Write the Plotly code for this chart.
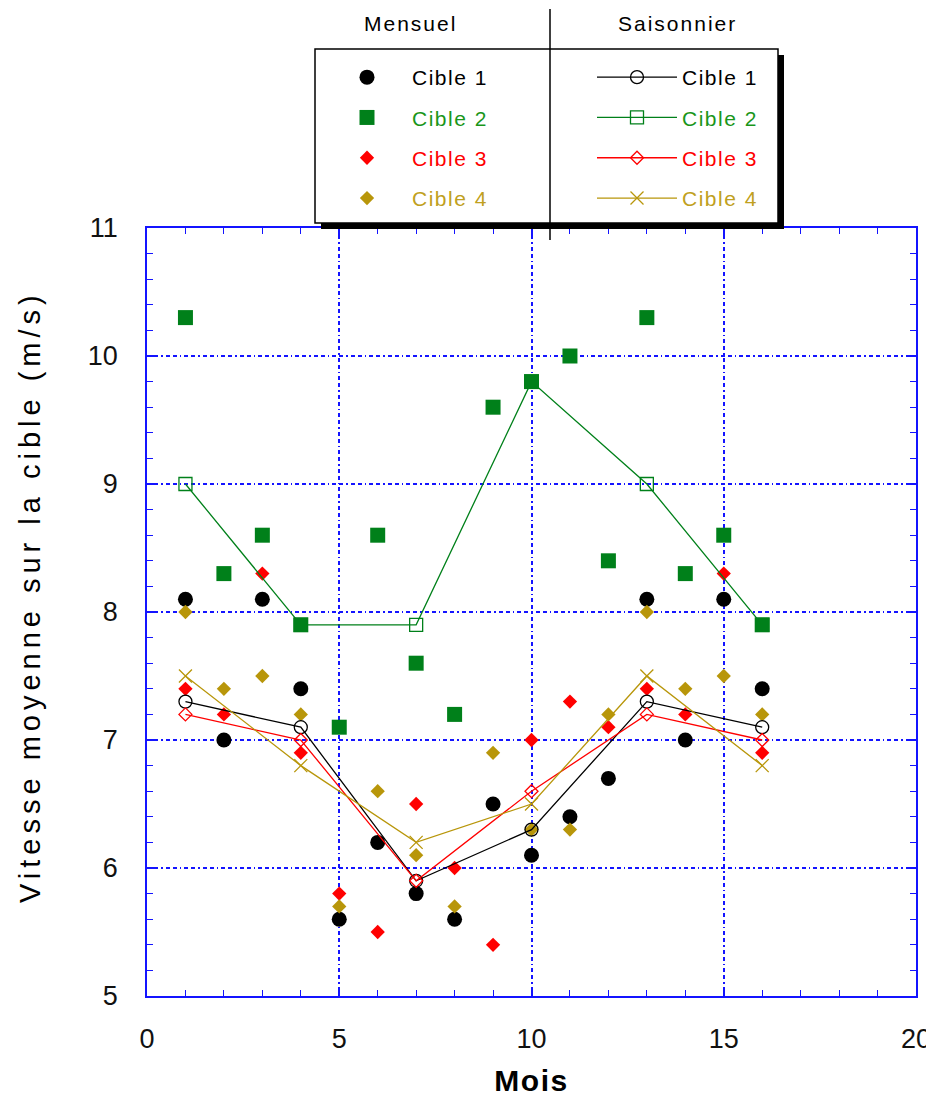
import plotly.graph_objects as go

# ---------------- data ----------------
months = list(range(1, 17))
mensuel_c1 = [8.1, 7.0, 8.1, 7.4, 5.6, 6.2, 5.8, 5.6, 6.5, 6.1, 6.4, 6.7, 8.1, 7.0, 8.1, 7.4]
mensuel_c2 = [10.3, 8.3, 8.6, 7.9, 7.1, 8.6, 7.6, 7.2, 9.6, 9.8, 10.0, 8.4, 10.3, 8.3, 8.6, 7.9]
mensuel_c3 = [7.4, 7.2, 8.3, 6.9, 5.8, 5.5, 6.5, 6.0, 5.4, 7.0, 7.3, 7.1, 7.4, 7.2, 8.3, 6.9]
mensuel_c4 = [8.0, 7.4, 7.5, 7.2, 5.7, 6.6, 6.1, 5.7, 6.9, 6.3, 6.3, 7.2, 8.0, 7.4, 7.5, 7.2]

saisons = [1, 4, 7, 10, 13, 16]
saison_c1 = [7.3, 7.1, 5.9, 6.3, 7.3, 7.1]
saison_c2 = [9.0, 7.9, 7.9, 9.8, 9.0, 7.9]
saison_c3 = [7.2, 7.0, 5.9, 6.6, 7.2, 7.0]
saison_c4 = [7.5, 6.8, 6.2, 6.5, 7.5, 6.8]

labels = ["Cible 1", "Cible 2", "Cible 3", "Cible 4"]
x_ticks = [0, 5, 10, 15, 20]
y_ticks = [5, 6, 7, 8, 9, 10, 11]

# ---------------- style ----------------
BLACK = "#000000"
GREEN = "#00801a"
GREEN_T = "#1a961a"
RED = "#ff0000"
GOLD = "#b8960a"
GOLD_T = "#c0a020"
BLUE = "#1414ff"
FONT = "Liberation Sans, Arial, sans-serif"

# window size and default body margin of the html page
WIN_W, WIN_H = 934, 1097
OFF = 8
W, H = WIN_W - OFF, WIN_H - OFF
# plot area in window pixels
L, R, T, B = 147, 916, 228, 996


def px(x):
    return (x - L) / (R - L)


def py(y):
    return (B - y) / (B - T)


def spaced(txt, color, sp=1.5):
    return f'<span style="letter-spacing:{sp}px;color:{color}">{txt}</span>'


fig = go.Figure()

mens = [
    (mensuel_c1, "circle", 15, BLACK, BLACK),
    (mensuel_c2, "square", 15, GREEN, GREEN_T),
    (mensuel_c3, "diamond", 11, RED, RED),
    (mensuel_c4, "diamond", 11, GOLD, GOLD_T),
]
for i, (vals, sym, sz, col, tcol) in enumerate(mens):
    fig.add_trace(go.Scatter(
        x=months, y=vals, mode="markers",
        marker=dict(symbol=sym, size=sz, color=col, line=dict(width=0)),
        name=spaced(labels[i], tcol), legend="legend",
        legendgroup=f"m{i}",
    ))

sais = [
    (saison_c1, "circle-open", 13, BLACK, BLACK),
    (saison_c2, "square-open", 13, GREEN, GREEN_T),
    (saison_c3, "diamond-open", 10, RED, RED),
    (saison_c4, "x-thin-open", 13, GOLD, GOLD_T),
]
for i, (vals, sym, sz, col, tcol) in enumerate(sais):
    fig.add_trace(go.Scatter(
        x=saisons, y=vals, mode="lines+markers",
        line=dict(color=col, width=1.3),
        marker=dict(symbol=sym, size=sz, color=col, line=dict(width=1.3, color=col)),
        name=spaced(labels[i], tcol), legend="legend2",
        legendgroup=f"s{i}",
    ))

axis_common = dict(
    showline=True, linecolor=BLUE, linewidth=1.5, mirror="ticks",
    ticks="inside", ticklen=8, tickwidth=1.5, tickcolor=BLUE,
    showgrid=True, gridcolor=BLUE, gridwidth=1.6,
    griddash="4px,3px,4px,3px,1.5px,3px",
    zeroline=False, automargin=False,
    tickfont=dict(family=FONT, size=27, color="#111111"),
)

fig.update_xaxes(
    **axis_common,
    range=[0, 20], tickvals=x_ticks,
    minor=dict(dtick=1, ticks="inside", ticklen=6, tickwidth=1.3, tickcolor=BLUE, showgrid=False),
    ticklabelstandoff=18,
    title=dict(text=spaced("Mois", BLACK, 1.5), font=dict(family=FONT, size=30, weight="bold"), standoff=17),
)
fig.update_yaxes(
    **axis_common,
    range=[5, 11], tickvals=y_ticks,
    minor=dict(dtick=0.2, ticks="inside", ticklen=6, tickwidth=1.3, tickcolor=BLUE, showgrid=False),
    ticklabelstandoff=22,
)

legend_common = dict(
    bgcolor="rgba(0,0,0,0)", borderwidth=0,
    font=dict(family=FONT, size=21),
    tracegroupgap=10, itemsizing="trace", itemwidth=80,
    xanchor="left", yanchor="top", traceorder="grouped",
)

fig.update_layout(
    width=W, height=H,
    margin=dict(l=L - OFF, r=W - (R - OFF), t=T - OFF, b=H - (B - OFF), autoexpand=False),
    plot_bgcolor="white", paper_bgcolor="white",
    showlegend=True,
    legend=dict(**legend_common, x=px(322), y=py(57)),
    legend2=dict(**legend_common, x=px(592), y=py(57)),
    shapes=[
        dict(type="rect", xref="paper", yref="paper",
             x0=px(321), x1=px(784), y0=py(229), y1=py(55),
             fillcolor="black", line=dict(width=0)),
        dict(type="rect", xref="paper", yref="paper",
             x0=px(315), x1=px(778), y0=py(223), y1=py(49),
             fillcolor="white", line=dict(color="black", width=1.5)),
        dict(type="line", xref="paper", yref="paper",
             x0=px(550), x1=px(550), y0=py(240), y1=py(9),
             line=dict(color="black", width=1.5)),
    ],
    annotations=[
        dict(text=spaced("Mensuel", BLACK, 2), x=px(410), y=py(23), xref="paper", yref="paper",
             showarrow=False, font=dict(family=FONT, size=21), xanchor="center", yanchor="middle"),
        dict(text=spaced("Saisonnier", BLACK, 2), x=px(677), y=py(23), xref="paper", yref="paper",
             showarrow=False, font=dict(family=FONT, size=21), xanchor="center", yanchor="middle"),
        dict(text=spaced("Vitesse moyenne sur la cible (m/s)", BLACK, 5),
             x=px(30), y=py(597), xref="paper", yref="paper", textangle=-90,
             showarrow=False, font=dict(family=FONT, size=29), xanchor="center", yanchor="middle"),
    ],
)

fig.write_html("out.html")
